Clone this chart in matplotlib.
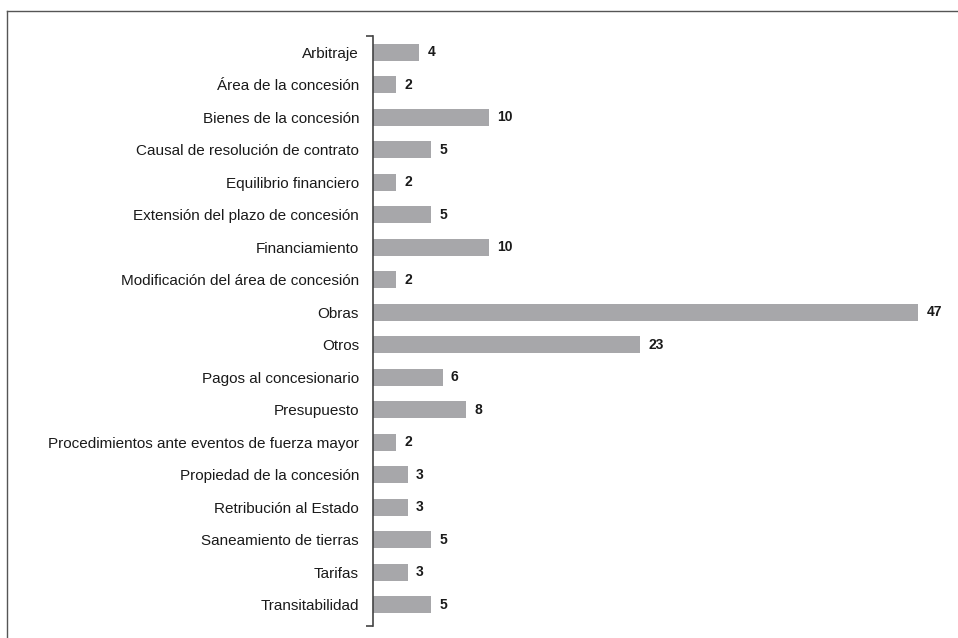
import matplotlib
matplotlib.use("Agg")
from matplotlib import pyplot as plt
from matplotlib import font_manager
from matplotlib.lines import Line2D

categories = [
    "Arbitraje",
    "Área de la concesión",
    "Bienes de la concesión",
    "Causal de resolución de contrato",
    "Equilibrio financiero",
    "Extensión del plazo de concesión",
    "Financiamiento",
    "Modificación del área de concesión",
    "Obras",
    "Otros",
    "Pagos al concesionario",
    "Presupuesto",
    "Procedimientos ante eventos de fuerza mayor",
    "Propiedad de la concesión",
    "Retribución al Estado",
    "Saneamiento de tierras",
    "Tarifas",
    "Transitabilidad",
]
values = [4, 2, 10, 5, 2, 5, 10, 2, 47, 23, 6, 8, 2, 3, 3, 5, 3, 5]

names = {f.name for f in font_manager.fontManager.ttflist}
narrow = "Liberation Sans Narrow" if "Liberation Sans Narrow" in names else "Liberation Sans"

fig = plt.figure(figsize=(9.58, 6.38), dpi=100)
ax = fig.add_axes([373 / 958, 1 - 626 / 638, (945 - 373) / 958, (626 - 36) / 638])

pos = list(range(len(categories)))
ax.barh(pos, values, height=0.53, color="#a7a7aa", left=0)

for p, v in zip(pos, values):
    ax.annotate(str(v), (v, p), xytext=(6, 0), textcoords="offset points",
                va="center", ha="left", fontsize=10, fontweight="bold",
                family=narrow, color="#1a1a1a")

ax.set_xlim(0, 49.3)
ax.set_ylim(17.65, -0.5)
ax.set_yticks(pos)
ax.set_yticklabels(categories, family=narrow, fontsize=11, color="#1a1a1a")
ax.tick_params(axis="y", which="major", length=0, pad=10)
ax.set_yticks([-0.5, 17.65], minor=True)
ax.tick_params(axis="y", which="minor", length=5, width=1.2, color="#444444")
ax.set_xticks([])
for s in ["top", "right", "bottom"]:
    ax.spines[s].set_visible(False)
ax.spines["left"].set_color("#444444")
ax.spines["left"].set_linewidth(1.2)

# marco exterior (bordes izquierdo y superior)
fig.add_artist(Line2D([7 / 958, 7 / 958], [0, 1 - 11 / 638], transform=fig.transFigure,
                      color="#555555", lw=1))
fig.add_artist(Line2D([7 / 958, 1], [1 - 11 / 638, 1 - 11 / 638], transform=fig.transFigure,
                      color="#555555", lw=1))

plt.savefig("out.png", dpi=100)
plt.close()
